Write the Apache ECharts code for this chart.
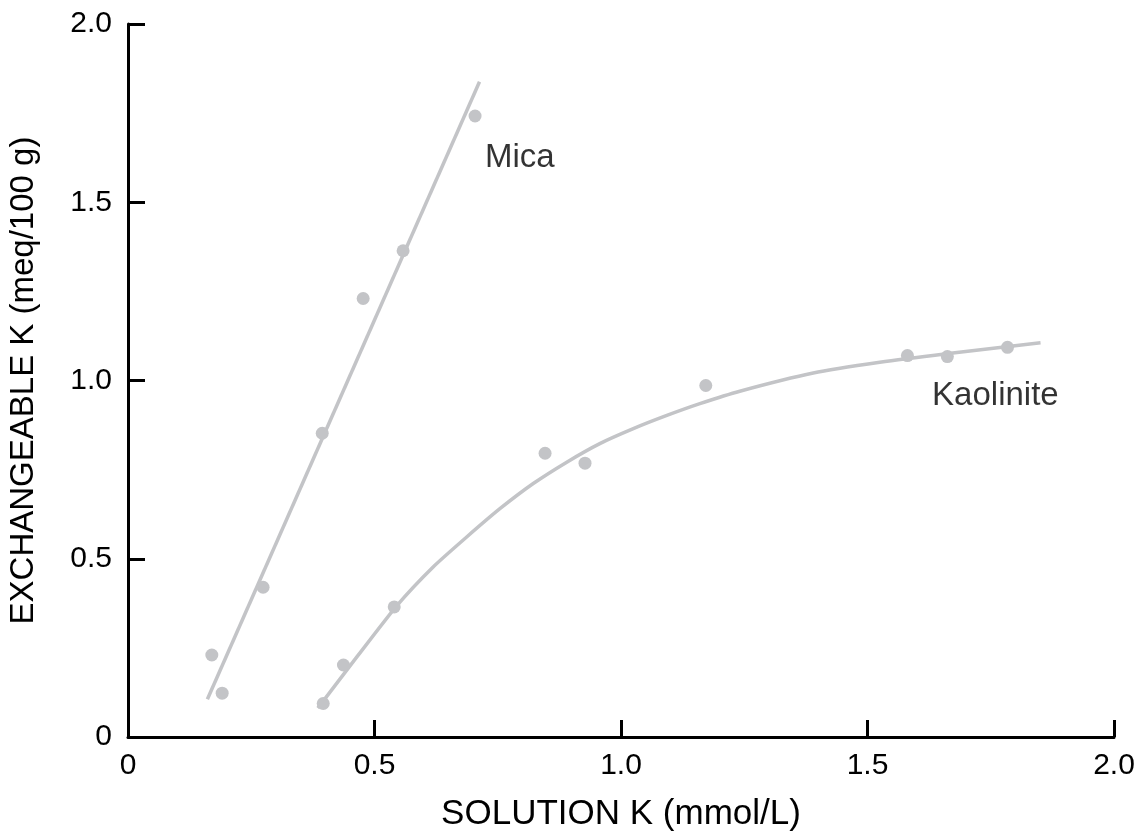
<!DOCTYPE html>
<html>
<head>
<meta charset="utf-8">
<script src="https://cdn.jsdelivr.net/npm/echarts@6/dist/echarts.min.js"></script>
<style>
  html, body { margin: 0; padding: 0; background: #fff; }
  #chart { width: 1138px; height: 834px; }
</style>
</head>
<body>
<div id="chart"></div>
<script>
// Measured points
const micaPoints = [[0.170, 0.230], [0.191, 0.123], [0.274, 0.420], [0.394, 0.852], [0.477, 1.230], [0.558, 1.364], [0.704, 1.742]];
const kaolinitePoints = [[0.396, 0.094], [0.437, 0.202], [0.540, 0.365], [0.846, 0.796], [0.927, 0.768], [1.172, 0.986], [1.581, 1.070], [1.662, 1.067], [1.784, 1.093]];
// Fitted curves
const micaFit = [[0.161, 0.106], [0.713, 1.838]];
const kaoliniteFit = [[0.385, 0.081], [0.465, 0.226], [0.545, 0.368], [0.619, 0.477], [0.687, 0.561], [0.755, 0.641], [0.822, 0.711], [0.890, 0.771], [0.957, 0.823], [1.025, 0.865], [1.093, 0.902], [1.160, 0.935], [1.241, 0.970], [1.390, 1.021], [1.525, 1.051], [1.660, 1.075], [1.851, 1.106]];
const xTicks = ['0', '0.5', '1.0', '1.5', '2.0'];
const yTicks = ['0', '0.5', '1.0', '1.5', '2.0'];
const labels = [{ name: 'Mica', at: [0.724, 1.625] }, { name: 'Kaolinite', at: [1.631, 0.958] }];

const gray = '#c3c4c7';
const ink = '#000000';
const font = 'Liberation Sans, Arial, Helvetica, sans-serif';

const chart = echarts.init(document.getElementById('chart'), null, { renderer: 'canvas' });
chart.setOption({
  backgroundColor: '#ffffff',
  animation: false,
  grid: { left: 128, right: 24, top: 24, bottom: 97, containLabel: false, outerBoundsMode: 'none' },
  xAxis: {
    type: 'value', min: 0, max: 2, interval: 0.5,
    name: 'SOLUTION K (mmol/L)', nameLocation: 'middle', nameGap: 60,
    nameTextStyle: { fontFamily: font, fontSize: 35, color: ink },
    axisLine: { show: true, lineStyle: { color: ink, width: 3 } },
    axisTick: { show: true, inside: true, length: 17, lineStyle: { color: ink, width: 3 } },
    axisLabel: { fontFamily: font, fontSize: 30, color: ink, margin: 14,
      formatter: (v) => xTicks[Math.round(v / 0.5)] },
    splitLine: { show: false }
  },
  yAxis: {
    type: 'value', min: 0, max: 2, interval: 0.5,
    name: 'EXCHANGEABLE K (meq/100 g)', nameLocation: 'middle', nameGap: 88,
    nameTextStyle: { fontFamily: font, fontSize: 33, color: ink },
    axisLine: { show: true, lineStyle: { color: ink, width: 3 } },
    axisTick: { show: true, inside: true, length: 17, lineStyle: { color: ink, width: 3 } },
    axisLabel: { fontFamily: font, fontSize: 30, color: ink, margin: 16,
      formatter: (v) => yTicks[Math.round(v / 0.5)] },
    splitLine: { show: false }
  },
  series: [
    { type: 'line', data: micaFit, showSymbol: false, smooth: false,
      lineStyle: { color: gray, width: 3.5 }, z: 2 },
    { type: 'line', data: kaoliniteFit, showSymbol: false, smooth: 0.2,
      lineStyle: { color: gray, width: 3.5 }, z: 2 },
    { type: 'scatter', data: micaPoints, symbolSize: 13,
      itemStyle: { color: gray, opacity: 1 }, z: 3 },
    { type: 'scatter', data: kaolinitePoints, symbolSize: 13,
      itemStyle: { color: gray, opacity: 1 }, z: 3 },
    { type: 'scatter', symbolSize: 0, silent: true, z: 4,
      data: labels.map(l => ({ value: l.at, name: l.name })),
      label: { show: true, position: 'right', distance: 0, formatter: '{b}',
        fontFamily: font, fontSize: 33, color: ink } }
  ]
});
</script>
</body>
</html>
